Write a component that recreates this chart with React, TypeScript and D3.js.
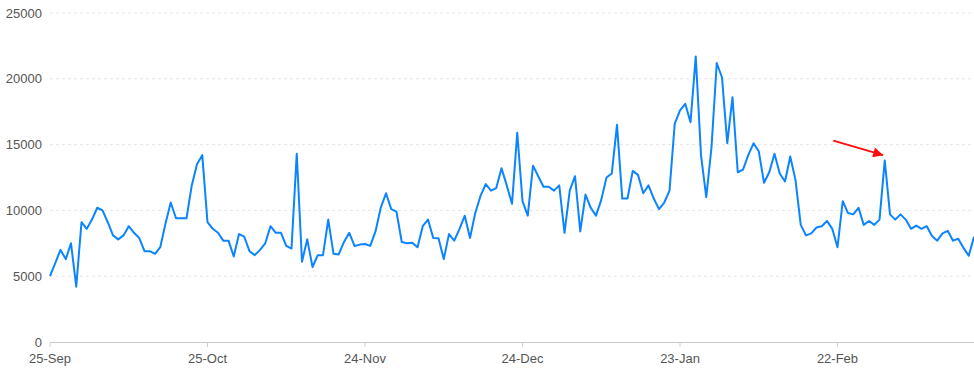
import React from "react";
import * as d3 from "d3";

const START_DATE = new Date(2023, 8, 25);
const values: number[] = [
  5000, 6000, 7000, 6300, 7500, 4200, 9100, 8600, 9300, 10200,
  10000, 9100, 8100, 7800, 8100, 8800, 8300, 7900, 6900, 6900,
  6700, 7200, 9000, 10600, 9400, 9400, 9400, 11900, 13500, 14200,
  9100, 8600, 8300, 7700, 7700, 6500, 8200, 8000, 6900, 6600,
  7000, 7500, 8800, 8300, 8300, 7300, 7100, 14300, 6100, 7800,
  5700, 6600, 6600, 9300, 6700, 6650, 7600, 8300, 7300, 7400,
  7450, 7300, 8400, 10200, 11300, 10100, 9900, 7600, 7500, 7550,
  7200, 8800, 9300, 7900, 7880, 6300, 8200, 7700, 8600, 9600,
  7900, 9800, 11100, 12000, 11500, 11700, 13200, 11900, 10500, 15900,
  10700, 9600, 13400, 12600, 11800, 11800, 11500, 11900, 8300, 11500,
  12600, 8400, 11200, 10200, 9600, 10800, 12500, 12800, 16500, 10900,
  10900, 13000, 12700, 11300, 11900, 10900, 10100, 10600, 11500, 16600,
  17600, 18100, 16700, 21700, 14200, 11000, 14800, 21200, 20100, 15100,
  18600, 12900, 13100, 14200, 15100, 14500, 12100, 12900, 14300, 12800,
  12200, 14100, 12300, 8900, 8100, 8250, 8700, 8800, 9200, 8600,
  7200, 10700, 9800, 9700, 10200, 8900, 9200, 8900, 9300, 13800,
  9700, 9300, 9700, 9300, 8600, 8850, 8600, 8800, 8050, 7700,
  8250, 8450, 7700, 7850, 7150, 6550, 8000,
];
const yTicks = [0, 5000, 10000, 15000, 20000, 25000];
const xTickDays = [0, 30, 60, 90, 120, 150];
const arrowFrom = { day: 149.2, value: 15300 };
const arrowTo = { day: 158.7, value: 14200 };

const W = 974;
const H = 377;
const M = { left: 50, right: 0, top: 13, bottom: 35 };

export default function App() {
  const dates = values.map((_, i) => d3.timeDay.offset(START_DATE, i));
  const x = d3
    .scaleTime()
    .domain([dates[0], dates[dates.length - 1]])
    .range([M.left, W - M.right]);
  const y = d3.scaleLinear().domain([0, 25000]).range([H - M.bottom, M.top]);
  const fmt = d3.timeFormat("%d-%b");
  const line = d3
    .line<number>()
    .x((_, i) => x(dates[i]))
    .y((v) => y(v));
  const ax1 = x(d3.timeDay.offset(START_DATE, 0)) + (arrowFrom.day / (values.length - 1)) * (W - M.right - M.left);
  const ay1 = y(arrowFrom.value);
  const ax2 = M.left + (arrowTo.day / (values.length - 1)) * (W - M.right - M.left);
  const ay2 = y(arrowTo.value);
  const ax1f = M.left + (arrowFrom.day / (values.length - 1)) * (W - M.right - M.left);
  void ax1;
  const font = "'Liberation Sans', Arial, Helvetica, sans-serif";
  return (
    <svg
      width={W}
      height={H}
      style={{ position: "absolute", left: 0, top: 0, background: "#fff" }}
      fontFamily={font}
    >
      <defs>
        <marker
          id="arrowhead"
          viewBox="0 0 10 10"
          refX="10"
          refY="5"
          markerWidth="6"
          markerHeight="5"
          markerUnits="strokeWidth"
          orient="auto"
        >
          <path d="M0,0 L10,5 L0,10 z" fill="#ff0d0d" />
        </marker>
      </defs>
      {yTicks.map((t) => (
        <g key={t}>
          {t !== 0 && (
            <line
              x1={M.left}
              x2={W - M.right}
              y1={y(t)}
              y2={y(t)}
              stroke="#e6e6e6"
              strokeDasharray="3,3"
            />
          )}
          <text
            x={42}
            y={y(t)}
            dy="0.35em"
            textAnchor="end"
            fontSize={13}
            fill="#555"
          >
            {t}
          </text>
        </g>
      ))}
      <line
        x1={M.left}
        x2={W - M.right}
        y1={y(0) + 0.5}
        y2={y(0) + 0.5}
        stroke="#c8c8c8"
      />
      {xTickDays.map((d) => {
        const dt = d3.timeDay.offset(START_DATE, d);
        const px = x(dt);
        return (
          <g key={d}>
            <line x1={px} x2={px} y1={y(0)} y2={y(0) + 5} stroke="#d0d0d0" />
            <text x={px} y={363} textAnchor="middle" fontSize={13} fill="#555">
              {fmt(dt)}
            </text>
          </g>
        );
      })}
      <path
        d={line(values) || ""}
        fill="none"
        stroke="#0a84ff"
        strokeWidth={2}
        strokeLinejoin="round"
      />
      <line
        x1={ax1f}
        y1={ay1}
        x2={ax2}
        y2={ay2}
        stroke="#ff0d0d"
        strokeWidth={2}
        markerEnd="url(#arrowhead)"
      />
    </svg>
  );
}
